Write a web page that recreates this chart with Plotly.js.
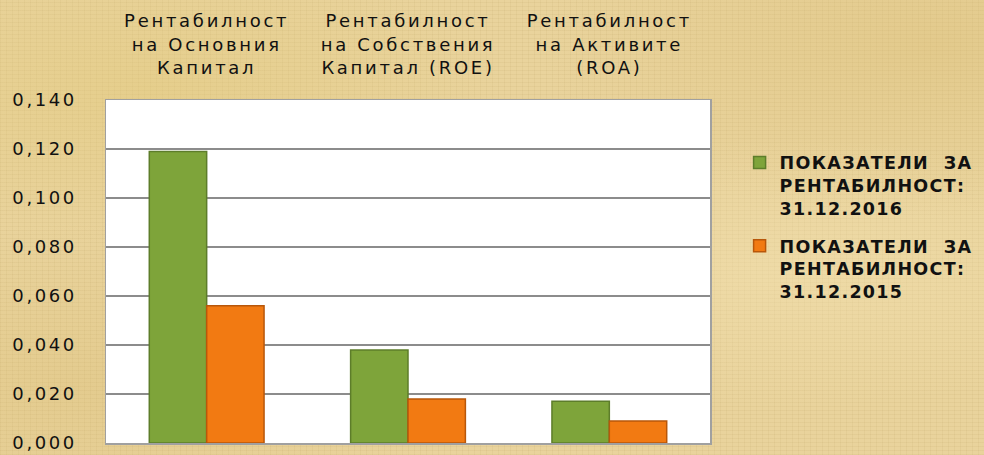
<!DOCTYPE html>
<html>
<head>
<meta charset="utf-8">
<script src="https://cdn.plot.ly/plotly-3.0.1.min.js"></script>
<style>
html,body{margin:0;padding:0;width:984px;height:455px;overflow:hidden;}
body{
  background-color:#e9d39c;
  background-image:
    radial-gradient(ellipse at 15% 20%, rgba(225,200,120,0.45), rgba(225,200,120,0) 30%),
    radial-gradient(ellipse at 80% 60%, rgba(245,228,180,0.45), rgba(245,228,180,0) 35%),
    radial-gradient(ellipse at 95% 10%, rgba(215,185,110,0.35), rgba(215,185,110,0) 30%),
    radial-gradient(ellipse at 8% 85%, rgba(215,185,110,0.30), rgba(215,185,110,0) 30%),
    repeating-linear-gradient(0deg, rgba(175,145,80,0.10) 0px, rgba(175,145,80,0.10) 1px, rgba(0,0,0,0) 1px, rgba(0,0,0,0) 4px),
    repeating-linear-gradient(90deg, rgba(175,145,80,0.09) 0px, rgba(175,145,80,0.09) 1px, rgba(0,0,0,0) 1px, rgba(0,0,0,0) 6px);
}
#chart{width:984px;height:455px;}
.xtick text{letter-spacing:2.7px;}
.ytick text{letter-spacing:2.6px;}
.legendtext{letter-spacing:1.3px;}
</style>
</head>
<body>
<div id="chart"></div>
<script>
const categories = [
  "Рентабилност<br>на Основния<br>Капитал",
  "Рентабилност<br>на Собствения<br>Капитал (ROE)",
  "Рентабилност<br>на Активите<br>(ROA)"
];
const series2016Name = "<b>ПОКАЗАТЕЛИ  ЗА<br>РЕНТАБИЛНОСТ:<br>31.12.2016</b>";
const series2015Name = "<b>ПОКАЗАТЕЛИ  ЗА<br>РЕНТАБИЛНОСТ:<br>31.12.2015</b>";
const values2016 = [0.119, 0.038, 0.017];
const values2015 = [0.056, 0.018, 0.009];
const yTicks = [0, 0.02, 0.04, 0.06, 0.08, 0.1, 0.12, 0.14];

const data = [
  {type:'bar', x:categories, y:values2016, name:series2016Name, legendgroup:'g2016',
   marker:{color:'#7ea43a', line:{color:'#5d7d2a', width:1.5}}},
  {type:'bar', x:categories, y:values2015, name:series2015Name, legendgroup:'g2015',
   marker:{color:'#f27a12', line:{color:'#b8570a', width:1.5}}}
];

const layout = {
  width:984, height:455,
  paper_bgcolor:'rgba(0,0,0,0)',
  plot_bgcolor:'#ffffff',
  separators:',.',
  margin:{l:106, r:274, t:100, b:12, pad:0, autoexpand:false},
  barmode:'group',
  bargap:0.43,
  bargroupgap:0,
  font:{family:'"DejaVu Sans", Verdana, sans-serif', color:'#000000', size:18},
  xaxis:{
    side:'top', type:'category',
    showgrid:false, zeroline:false,
    showline:true, linecolor:'#a0a0a0', linewidth:1.5, mirror:true,
    ticks:'outside', ticklen:17, tickcolor:'rgba(0,0,0,0)',
    tickfont:{size:18, family:'"DejaVu Sans", Verdana, sans-serif', color:'#111'}
  },
  yaxis:{
    range:[0,0.14], tickvals:yTicks, tickformat:'.3f',
    showgrid:true, gridcolor:'#8c8c8c', gridwidth:1.5,
    zeroline:false,
    showline:true, linecolor:'#a0a0a0', linewidth:1.5, mirror:true,
    ticks:'outside', ticklen:24, tickcolor:'rgba(0,0,0,0)',
    tickfont:{size:18, family:'"DejaVu Sans", Verdana, sans-serif', color:'#111'}
  },
  legend:{
    x:1.049, y:0.87, xanchor:'left', yanchor:'top',
    bgcolor:'rgba(0,0,0,0)',
    font:{size:17.5, family:'"DejaVu Sans", Verdana, sans-serif', color:'#111'},
    tracegroupgap:12, itemwidth:30, valign:'top'
  },
  showlegend:true
};

Plotly.newPlot('chart', data, layout, {displayModeBar:false, staticPlot:true});
</script>
</body>
</html>
